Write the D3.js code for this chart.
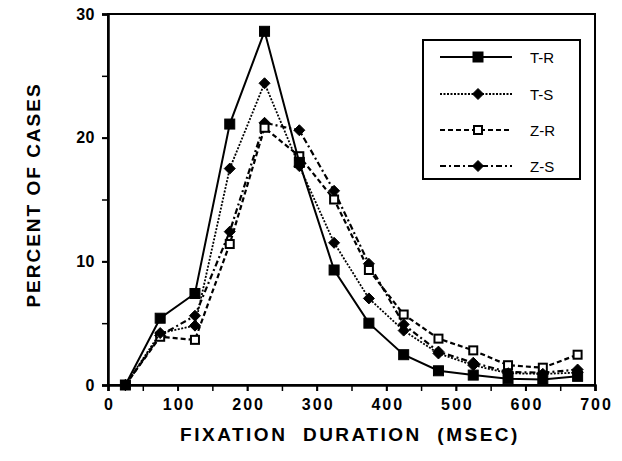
<!DOCTYPE html>
<html>
<head>
<meta charset="utf-8">
<script src="https://cdn.jsdelivr.net/npm/d3@7"></script>
<style>
  body { margin: 0; background: #fff; }
  svg { display: block; font-family: "Liberation Sans", Arial, sans-serif; }
</style>
</head>
<body>
<div id="chart"></div>
<script>
// fixation duration bins (msec, bin centres)
const durations = [25, 75, 125, 175, 225, 275, 325, 375, 425, 475, 525, 575, 625, 675];

// percent of cases per condition
const tR = [0, 5.4, 7.4, 21.1, 28.6, 18.0, 9.3, 5.0, 2.45, 1.15, 0.8, 0.5, 0.45, 0.7];
const tS = [0, 4.2, 4.8, 17.5, 24.4, 17.7, 11.5, 7.0, 4.4, 2.55, 1.6, 0.95, 0.9, 1.0];
const zR = [0, 3.9, 3.65, 11.4, 20.8, 18.5, 15.0, 9.3, 5.7, 3.75, 2.8, 1.6, 1.4, 2.45];
const zS = [0, 4.0, 5.6, 12.4, 21.2, 20.6, 15.7, 9.8, 4.9, 2.7, 1.8, 1.05, 1.0, 1.25];

const seriesNames = ["T-R", "T-S", "Z-R", "Z-S"];
const yTicks = [0, 10, 20, 30];
const xTicks = [0, 100, 200, 300, 400, 500, 600, 700];

const W = 622, H = 461;
const margin = {top: 14, right: 27, bottom: 76, left: 108};
const width = W - margin.left - margin.right,
      height = H - margin.top - margin.bottom;

const svg = d3.select("#chart").append("svg")
    .attr("width", W)
    .attr("height", H);

const g = svg.append("g")
    .attr("transform", "translate(" + margin.left + "," + margin.top + ")");

const x = d3.scaleLinear().domain([0, 700]).range([0, width]);
const y = d3.scaleLinear().domain([0, 30]).range([height, 0]);

// frame
g.append("rect")
    .attr("x", 0).attr("y", 0)
    .attr("width", width).attr("height", height)
    .attr("fill", "none")
    .attr("stroke", "#000")
    .attr("stroke-width", 2);

// minor ticks (every 50 on x, every 5 on y)
const xAxisMinor = d3.axisBottom(x).tickValues(d3.range(0, 701, 50)).tickSize(6).tickFormat("");
const yAxisMinor = d3.axisLeft(y).tickValues(d3.range(0, 31, 5)).tickSize(6).tickFormat("");

g.append("g").attr("transform", "translate(0," + height + ")").call(xAxisMinor)
    .call(a => a.select(".domain").remove())
    .selectAll("line").attr("stroke-width", 1.5);
g.append("g").call(yAxisMinor)
    .call(a => a.select(".domain").remove())
    .selectAll("line").attr("stroke-width", 1.5);

// labelled axes
const xAxis = d3.axisBottom(x).tickValues(xTicks).tickSize(6).tickPadding(8);
const yAxis = d3.axisLeft(y).tickValues(yTicks).tickSize(6).tickPadding(7);

const xa = g.append("g").attr("transform", "translate(0," + height + ")").call(xAxis);
xa.select(".domain").attr("stroke-width", 2.5);
xa.selectAll("line").attr("stroke-width", 2);
xa.selectAll("text")
    .attr("font-size", 16)
    .attr("font-weight", "bold")
    .attr("letter-spacing", "2px")
    .attr("dx", "1px")
    .attr("fill", "#000");

const ya = g.append("g").call(yAxis);
ya.select(".domain").attr("stroke-width", 2.5);
ya.selectAll("line").attr("stroke-width", 2);
ya.selectAll("text")
    .attr("font-size", 16)
    .attr("font-weight", "bold")
    .attr("letter-spacing", "0.5px")
    .attr("fill", "#000");

// axis titles
svg.append("text")
    .attr("x", 350).attr("y", 441)
    .attr("text-anchor", "middle")
    .attr("font-size", 19)
    .attr("font-weight", "bold")
    .attr("letter-spacing", "2.5px")
    .style("white-space", "pre")
    .text("FIXATION  DURATION  (MSEC)");

svg.append("text")
    .attr("transform", "translate(40,195) rotate(-90)")
    .attr("text-anchor", "middle")
    .attr("font-size", 19)
    .attr("font-weight", "bold")
    .attr("letter-spacing", "2px")
    .text("PERCENT OF CASES");

// series styling
const styles = [
    {dash: null, width: 2, marker: "square", fill: "#000"},
    {dash: "2,1.5", width: 1.8, marker: "diamond", fill: "#000"},
    {dash: "5,3", width: 2.2, marker: "square", fill: "#fff"},
    {dash: "6,3,2,3", width: 2.2, marker: "diamond", fill: "#000"}
];
const allSeries = [tR, tS, zR, zS];

const line = d3.line()
    .x((d, i) => x(durations[i]))
    .y(d => y(d));

function drawMarker(sel, st, cx, cy) {
    if (st.marker === "square") {
        const s = st.fill === "#fff" ? 8 : 10;
        sel.append("rect")
            .attr("x", cx - s / 2).attr("y", cy - s / 2)
            .attr("width", s).attr("height", s)
            .attr("fill", st.fill)
            .attr("stroke", "#000")
            .attr("stroke-width", st.fill === "#fff" ? 2 : 1);
    } else {
        const r = 5.5;
        sel.append("path")
            .attr("d", `M${cx},${cy - r}L${cx + r},${cy}L${cx},${cy + r}L${cx - r},${cy}Z`)
            .attr("fill", st.fill)
            .attr("stroke", "#000")
            .attr("stroke-width", 1);
    }
}

// draw order: back to front
[3, 2, 1, 0].forEach(k => {
    const st = styles[k];
    g.append("path")
        .datum(allSeries[k])
        .attr("d", line)
        .attr("fill", "none")
        .attr("stroke", "#000")
        .attr("stroke-width", st.width)
        .attr("stroke-dasharray", st.dash);
    const mg = g.append("g");
    allSeries[k].forEach((v, i) => drawMarker(mg, st, x(durations[i]), y(v)));
});

// legend
const lg = svg.append("g");
lg.append("rect")
    .attr("x", 423).attr("y", 40)
    .attr("width", 157).attr("height", 139)
    .attr("fill", "#fff")
    .attr("stroke", "#000")
    .attr("stroke-width", 2);

const rowY = [57, 94, 130, 166];
seriesNames.forEach((name, k) => {
    const st = styles[k];
    lg.append("line")
        .attr("x1", 440).attr("x2", 512)
        .attr("y1", rowY[k]).attr("y2", rowY[k])
        .attr("stroke", "#000")
        .attr("stroke-width", st.width)
        .attr("stroke-dasharray", st.dash);
    drawMarker(lg, st, 478, rowY[k]);
    lg.append("text")
        .attr("x", 530).attr("y", rowY[k] + 5.5)
        .attr("font-size", 15)
        .text(name);
});
</script>
</body>
</html>
